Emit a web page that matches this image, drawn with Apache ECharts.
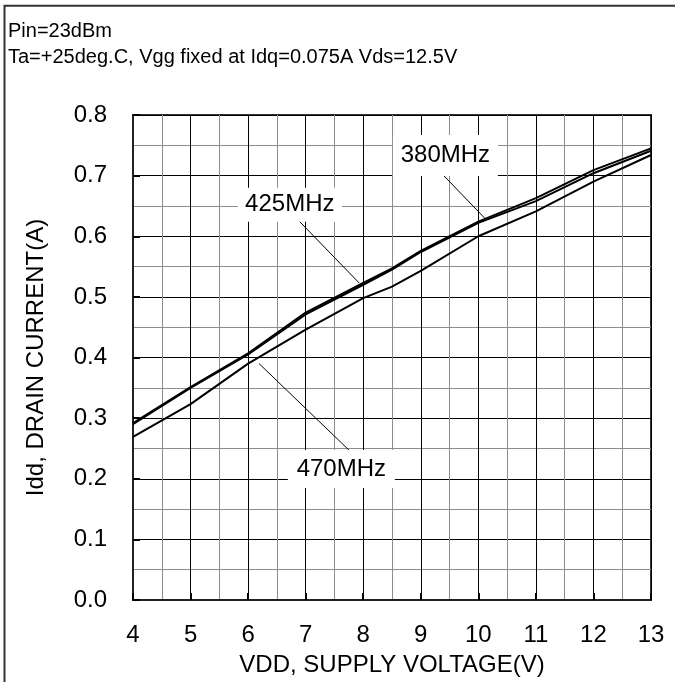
<!DOCTYPE html>
<html>
<head>
<meta charset="utf-8">
<script src="https://cdn.jsdelivr.net/npm/echarts@6/dist/echarts.min.js"></script>
<style>
  html, body { margin: 0; padding: 0; background: #fff; }
  #main { width: 675px; height: 682px; }
</style>
</head>
<body>
<div id="main"></div>
<script>
// supply voltage (V) and drain current (A)
var vdd     = [4, 5, 6, 7, 8, 8.5, 9, 10, 11, 12, 13];
var idd380  = [0.292, 0.351, 0.407, 0.474, 0.523, 0.547, 0.576, 0.624, 0.663, 0.709, 0.745];
var idd425  = [0.290, 0.350, 0.405, 0.471, 0.520, 0.545, 0.574, 0.622, 0.658, 0.704, 0.741];
var idd470  = [0.269, 0.323, 0.390, 0.446, 0.498, 0.517, 0.543, 0.600, 0.641, 0.690, 0.734];

// callout labels: [V, I] of box centre, leader start, leader end
var note380 = { text: '380MHz', at: [9.428, 0.733], from: [9.389, 0.701], to: [10.13, 0.628] };
var note425 = { text: '425MHz', at: [6.724, 0.652], from: [6.754, 0.638], to: [7.929, 0.523] };
var note470 = { text: '470MHz', at: [7.620, 0.216], from: [6.19, 0.390], to: [7.755, 0.247] };

var font = "'Liberation Sans', Arial, sans-serif";

function pairs(ys) {
    return vdd.map(function (v, i) { return [v, ys[i]]; });
}

function curve(name, ys, note, boxSize) {
    return {
        name: name,
        type: 'line',
        data: pairs(ys),
        symbol: 'none',
        lineStyle: { color: '#000', width: 2 },
        silent: true,
        markLine: {
            silent: true,
            symbol: 'none',
            label: { show: false },
            lineStyle: { color: '#000', width: 1, type: 'solid' },
            data: [[{ coord: note.from }, { coord: note.to }]]
        },
        markPoint: {
            silent: true,
            symbol: 'rect',
            symbolSize: boxSize,
            itemStyle: { color: '#fff' },
            label: {
                show: true,
                position: 'inside',
                formatter: note.text,
                color: '#000',
                fontSize: 24,
                fontFamily: font
            },
            data: [{ coord: note.at }]
        }
    };
}

var chart = echarts.init(document.getElementById('main'));

var option = {
    animation: false,
    backgroundColor: '#fff',
    textStyle: { fontFamily: font },
    title: {
        text: 'Pin=23dBm\nTa=+25deg.C, Vgg fixed at Idq=0.075A Vds=12.5V',
        left: 8,
        top: 18,
        padding: 0,
        textStyle: { fontSize: 20, fontWeight: 'normal', color: '#000', lineHeight: 26, fontFamily: font }
    },
    grid: { left: 133, top: 115, right: 24, bottom: 82, show: true, borderColor: '#333', borderWidth: 2 },
    xAxis: {
        type: 'value',
        min: 4, max: 13, interval: 1,
        name: 'VDD, SUPPLY VOLTAGE(V)',
        nameLocation: 'middle',
        nameGap: 53,
        nameTextStyle: { fontSize: 24, color: '#000', fontFamily: font },
        axisLine: { show: true, lineStyle: { color: '#222', width: 2 } },
        axisTick: { show: true, inside: true, length: 7, lineStyle: { color: '#000', width: 2 } },
        axisLabel: { fontSize: 24, color: '#000', margin: 23, fontFamily: font },
        splitLine: { show: true, lineStyle: { color: '#000', width: 1 } },
        minorTick: { show: false, splitNumber: 2 },
        minorSplitLine: { show: true, lineStyle: { color: '#8c8c8c', width: 1 } }
    },
    yAxis: {
        type: 'value',
        min: 0, max: 0.8, interval: 0.1,
        name: 'Idd, DRAIN CURRENT(A)',
        nameLocation: 'middle',
        nameGap: 85,
        nameTextStyle: { fontSize: 24, color: '#000', fontFamily: font },
        axisLine: { show: true, lineStyle: { color: '#222', width: 2 } },
        axisTick: { show: true, inside: true, length: 7, lineStyle: { color: '#000', width: 2 } },
        axisLabel: {
            fontSize: 24, color: '#000', margin: 26, fontFamily: font,
            formatter: function (v) { return v.toFixed(1); }
        },
        splitLine: { show: true, lineStyle: { color: '#000', width: 1 } },
        minorTick: { show: false, splitNumber: 2 },
        minorSplitLine: { show: true, lineStyle: { color: '#8c8c8c', width: 1 } }
    },
    graphic: [{
        type: 'polyline',
        shape: { points: [[4.5, 682], [4.5, 5.8], [675, 5.8]] },
        style: { stroke: '#333', lineWidth: 2, fill: null },
        silent: true
    }],
    series: [
        curve('470MHz', idd470, note470, [107, 38]),
        curve('425MHz', idd425, note425, [104, 34]),
        curve('380MHz', idd380, note380, [105, 41])
    ]
};

chart.setOption(option);
</script>
</body>
</html>
